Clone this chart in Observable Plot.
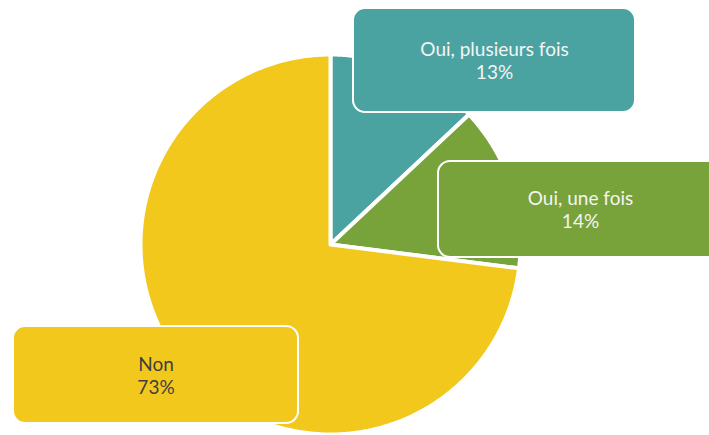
<!DOCTYPE html>
<html>
<head>
<meta charset="utf-8">
<script src="https://cdn.jsdelivr.net/npm/d3@7"></script>
<script src="https://cdn.jsdelivr.net/npm/@observablehq/plot@0.6"></script>
<style>
  body { margin: 0; background: #ffffff; }
</style>
</head>
<body>
<div id="chart"></div>
<script>
// ---- data ----
const categories = ["Oui, plusieurs fois", "Oui, une fois", "Non"];
const values = [13, 14, 73];
const valueLabels = ["13%", "14%", "73%"];
const colors = ["#4BA3A1", "#78A33A", "#F3C81C"];

// ---- layout ----
const W = 709, H = 435;
const pie = {cx: 330, cy: 244, r: 190};
const boxes = [
  {x1: 353, x2: 635, y1: 8,   y2: 112},
  {x1: 438, x2: 722, y1: 161, y2: 257},
  {x1: 13,  x2: 298, y1: 326, y2: 423}
];
const darkText = [false, false, true];

// slice outlines computed from the values
const arcs = d3.pie().sort(null).value(d => d)(values);
const rows = [];
arcs.forEach((a, i) => {
  rows.push({cat: categories[i], x: pie.cx, y: pie.cy});
  const n = Math.max(2, Math.ceil((a.endAngle - a.startAngle) / 0.01));
  for (let k = 0; k <= n; k++) {
    const t = a.startAngle + (a.endAngle - a.startAngle) * k / n;
    rows.push({cat: categories[i], x: pie.cx + pie.r * Math.sin(t), y: pie.cy - pie.r * Math.cos(t)});
  }
});

const labels = categories.map((c, i) => ({
  cat: c,
  text: c + "\n" + valueLabels[i],
  dark: darkText[i],
  ...boxes[i]
}));

const chart = Plot.plot({
  width: W,
  height: H,
  margin: 0,
  style: {background: "#ffffff", fontFamily: "Lato, sans-serif"},
  x: {domain: [0, W], range: [0, W], axis: null},
  y: {domain: [0, H], range: [0, H], axis: null},
  color: {domain: categories, range: colors},
  marks: [
    Plot.line(rows, {x: "x", y: "y", z: "cat", fill: "cat", stroke: "white", strokeWidth: 4, curve: "linear-closed"}),
    Plot.rect(labels, {x1: "x1", x2: "x2", y1: "y1", y2: "y2", fill: "cat", stroke: "white", strokeWidth: 2, rx: 12, ry: 12}),
    Plot.text(labels.filter(d => !d.dark), {
      x: d => (d.x1 + d.x2) / 2, y: d => (d.y1 + d.y2) / 2, text: "text",
      fill: "#F4F4F4", fontSize: 19, lineHeight: 1.2, fontFamily: "Lato"
    }),
    Plot.text(labels.filter(d => d.dark), {
      x: d => (d.x1 + d.x2) / 2, y: d => (d.y1 + d.y2) / 2, text: "text",
      fill: "#404040", fontSize: 19, lineHeight: 1.2, fontFamily: "Lato"
    })
  ]
});
document.getElementById("chart").appendChild(chart);
</script>
</body>
</html>
